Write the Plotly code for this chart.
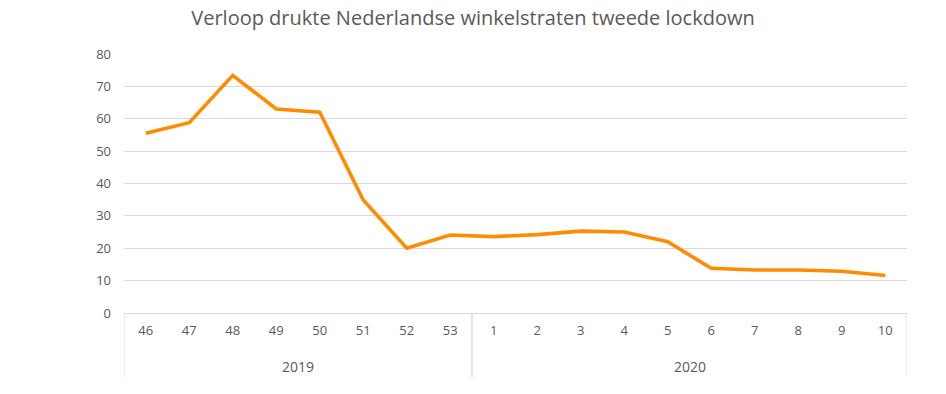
import plotly.graph_objects as go

years = ["2019"] * 8 + ["2020"] * 10
weeks = ["46", "47", "48", "49", "50", "51", "52", "53",
         "1", "2", "3", "4", "5", "6", "7", "8", "9", "10"]
drukte = [55.5, 58.8, 73.4, 63.0, 62.0, 34.9, 20.0, 24.1,
          23.6, 24.2, 25.3, 25.0, 22.0, 13.8, 13.3, 13.3, 12.9, 11.6]
y_ticks = [0, 10, 20, 30, 40, 50, 60, 70, 80]

TXT = "#595959"
GRID = "#D9D9D9"

fig = go.Figure()
fig.add_trace(go.Scatter(
    x=weeks, y=drukte, mode="lines",
    line=dict(color="#FF8C00", width=3.6),
    hoverinfo="y",
))

# year group labels and group dividers (derived from the year list)
plot_h = 394 - 54 - 81
box_depth = -64 / plot_h
groups = []
for i, yr in enumerate(years):
    if not groups or groups[-1][0] != yr:
        groups.append([yr, i, i])
    else:
        groups[-1][2] = i

shapes = []
annotations = []
for yr, i0, i1 in groups:
    annotations.append(dict(
        x=(i0 + i1) / 2, xref="x", y=-53 / plot_h, yref="paper",
        text=yr, showarrow=False, xanchor="center", yanchor="middle",
        font=dict(size=14, color=TXT),
    ))
    for xb in (i0 - 0.5, i1 + 0.5):
        shapes.append(dict(
            type="line", xref="x", yref="paper",
            x0=xb, x1=xb, y0=0, y1=box_depth,
            line=dict(color=GRID, width=1),
        ))

fig.update_layout(
    width=946, height=394,
    margin=dict(l=124, r=39, t=54, b=81),
    paper_bgcolor="white", plot_bgcolor="white",
    showlegend=False,
    font=dict(family="Open Sans, Lato, sans-serif", color=TXT, size=13),
    title=dict(text="Verloop drukte Nederlandse winkelstraten tweede lockdown",
               x=0.5, xanchor="center", y=1 - 18 / 394, yanchor="middle",
               font=dict(family="Open Sans, sans-serif", size=20, color=TXT)),
    xaxis=dict(
        type="category",
        range=[-0.5, len(weeks) - 0.5],
        showgrid=False, zeroline=False, showline=False,
        ticks="", ticklabelstandoff=8,
        tickfont=dict(size=13, color=TXT),
        automargin=False,
    ),
    yaxis=dict(
        range=[0, 80], tickvals=y_ticks,
        showgrid=True, gridcolor=GRID, gridwidth=1,
        zeroline=True, zerolinecolor=GRID, zerolinewidth=1,
        showline=False, ticks="", ticklabelstandoff=12,
        tickfont=dict(size=13, color=TXT),
        automargin=False,
    ),
    shapes=shapes,
    annotations=annotations,
)

fig.write_html("out.html",
               config={"displayModeBar": False},
               post_script="document.body.style.margin='0';document.body.style.overflow='hidden';")
